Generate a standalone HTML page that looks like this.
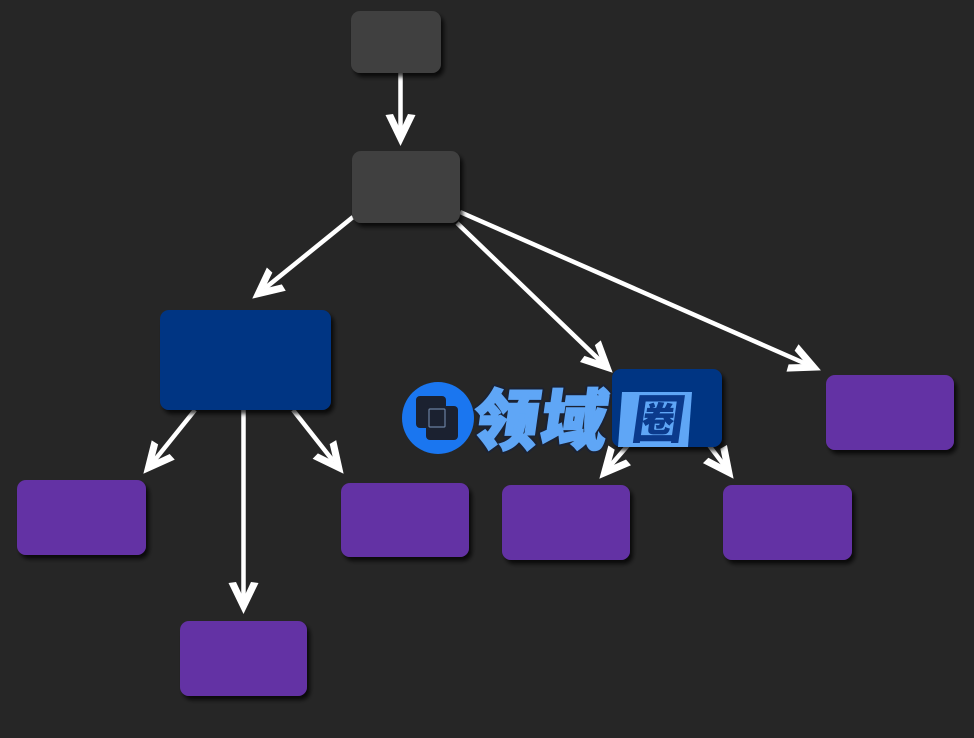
<!DOCTYPE html>
<html>
<head>
<meta charset="utf-8">
<style>
html,body{margin:0;padding:0;background:#262626;}
svg{display:block;}
</style>
</head>
<body>
<svg width="974" height="738" viewBox="0 0 974 738" xmlns="http://www.w3.org/2000/svg">
<defs>
<filter id="sh" x="-20%" y="-20%" width="150%" height="160%">
<feDropShadow dx="3" dy="4" stdDeviation="2" flood-color="#000" flood-opacity="0.75"/>
</filter>
<g id="ah">
<polygon points="1,0 -30,-15 -31,-7.5 -15,0 -31,7.5 -30,15" fill="#ffffff"/>
</g>
</defs>
<rect width="974" height="738" fill="#262626"/>

<!-- connector lines -->
<g stroke="#ffffff" stroke-width="4.5" fill="none" stroke-linecap="butt">
<line x1="400.5" y1="73" x2="400.5" y2="131"/>
<line x1="353" y1="217" x2="264.7" y2="288.5"/>
<line x1="457" y1="223" x2="601.2" y2="361.6"/>
<line x1="460" y1="212" x2="806.3" y2="364"/>
<line x1="195" y1="410" x2="153.6" y2="461.5"/>
<line x1="243.5" y1="410" x2="243.5" y2="599"/>
<line x1="293" y1="410" x2="333.5" y2="461.4"/>
<line x1="650" y1="420" x2="609.6" y2="466.5"/>
<line x1="690" y1="420" x2="724.4" y2="465.7"/>
</g>

<!-- arrowheads -->
<use href="#ah" transform="translate(400.5,145) rotate(90)"/>
<use href="#ah" transform="translate(253,298) rotate(141)"/>
<use href="#ah" transform="translate(612,372) rotate(43.9)"/>
<use href="#ah" transform="translate(820,370) rotate(23.7)"/>
<use href="#ah" transform="translate(144,473) rotate(129.9)"/>
<use href="#ah" transform="translate(243.5,613) rotate(90)"/>
<use href="#ah" transform="translate(343,473) rotate(51.7)"/>
<use href="#ah" transform="translate(600,478) rotate(131)"/>
<use href="#ah" transform="translate(733,478) rotate(53)"/>

<!-- nodes -->
<g filter="url(#sh)">
<rect x="351" y="11" width="90" height="62" rx="9" fill="#3f3f3f"/>
<rect x="352" y="151" width="108" height="72" rx="9" fill="#3f3f3f"/>
<rect x="160" y="310" width="171" height="100" rx="9" fill="#033483"/>
<rect x="612" y="369" width="110" height="78" rx="9" fill="#033483"/>
<rect x="826" y="375" width="128" height="75" rx="9" fill="#6430a4"/>
<rect x="17" y="480" width="129" height="75" rx="9" fill="#6430a4"/>
<rect x="341" y="483" width="128" height="74" rx="9" fill="#6430a4"/>
<rect x="502" y="485" width="128" height="75" rx="9" fill="#6430a4"/>
<rect x="723" y="485" width="129" height="75" rx="9" fill="#6430a4"/>
<rect x="180" y="621" width="127" height="75" rx="9" fill="#6430a4"/>
</g>

<!-- watermark -->
<g>
<circle cx="438" cy="418" r="36" fill="#1a76f0"/>
<rect x="416" y="396" width="30" height="32" rx="4" fill="#1b2130"/>
<rect x="426" y="406" width="32" height="34" rx="4" fill="#1b2130"/>
<rect x="429" y="409" width="16" height="18" rx="1" fill="none" stroke="#6a7fa0" stroke-width="1.2"/>
<g transform="translate(0,446) skewX(-8) translate(0,-446)">
<polygon points="622,392 692,392 688,447 618,447" fill="#5fa6f6" transform="translate(0,446) skewX(8) translate(0,-446)"/>
<g font-family="'Noto Sans CJK SC','WenQuanYi Zen Hei',sans-serif" font-weight="900" font-size="66">
<text x="470" y="444" fill="none" stroke="#1b2233" stroke-width="6" stroke-linejoin="round">领</text>
<text x="538" y="444" fill="none" stroke="#1b2233" stroke-width="6" stroke-linejoin="round">域</text>
<text x="470" y="444" fill="#5fa6f6" stroke="#5fa6f6" stroke-width="2">领</text>
<text x="538" y="444" fill="#5fa6f6" stroke="#5fa6f6" stroke-width="2">域</text>
</g>
<text x="629" y="438" font-family="'Noto Sans CJK SC','WenQuanYi Zen Hei',sans-serif" font-weight="900" font-size="52" fill="#0b3a8c">圈</text>
</g>
</g>
</svg>
</body>
</html>
